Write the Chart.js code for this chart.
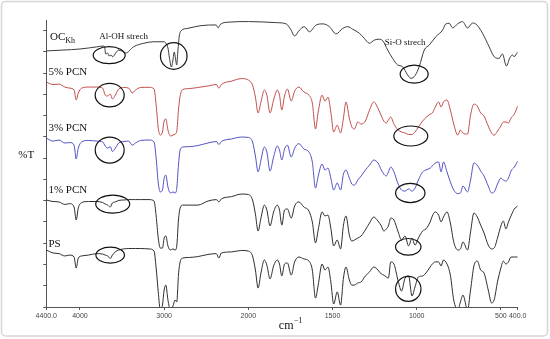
<!DOCTYPE html>
<html><head><meta charset="utf-8">
<script src="https://cdn.jsdelivr.net/npm/chart.js@4/dist/chart.umd.min.js"></script>
<style>html,body{margin:0;padding:0;background:#fff;}canvas{display:block;}</style>
</head><body>
<canvas id="c" width="550" height="339"></canvas>
<script>
const tickValues = [4400,4000,3000,2000,1500,1000,500,400];
const tickLabels = ['4400.0','4000','3000','2000','1500','1000','500','400.0'];

const ocWn = [4400,4200,4000,3800,3720,3707,3696,3672,3654,3630,3612,3576,3540,3493,3457,3361,3242,3122,3003,2979,2955,2937,2913,2896,2880,2866,2851,2836,2820,2800,2720,2561,2382,2358,2334,2242,2000,1834,1775,1746,1726,1696,1668,1637,1597,1557,1518,1479,1439,1409,1380,1340,1311,1281,1251,1222,1202,1172,1143,1113,1084,1054,1034,1010,985,955,925,886,846,827,807,787,757,728,698,668,649,609,570,540,511,491,467,447,431,422,400];
const ocKh = [120.4,120.8,121.3,122.3,122.7,122.3,119.0,119.4,118.0,118.5,117.6,119.4,120.8,120.1,119.4,122.4,124.0,124.7,124.7,124.0,121.8,117.1,112.8,116.1,119.9,117.1,113.8,120.8,127.4,129.8,131.0,132.3,132.6,131.2,132.8,133.9,134.2,133.7,133.1,130.2,127.4,130.2,131.8,129.4,132.6,133.1,131.8,128.4,131.0,131.8,130.6,128.7,126.3,124.0,125.5,125.9,125.2,120.8,116.9,113.8,113.0,109.1,107.5,108.8,113.0,120.8,123.2,127.1,130.2,133.1,133.4,131.2,133.1,134.2,131.2,133.5,133.1,128.7,122.4,117.7,116.9,119.0,113.3,117.1,118.5,117.7,119.9];

const psWn = [4400,4320,4250,4180,4120,4070,4045,4020,3980,3900,3800,3730,3700,3670,3640,3615,3580,3540,3480,3420,3380,3340,3280,3180,3120,3095,3070,3045,3020,3000,2980,2955,2925,2895,2870,2850,2830,2810,2780,2700,2600,2480,2380,2350,2320,2200,2080,2000,1975,1958,1942,1925,1905,1890,1871,1850,1828,1815,1801,1785,1768,1745,1725,1700,1670,1640,1620,1601,1585,1562,1545,1527,1510,1493,1472,1452,1435,1420,1400,1385,1370,1350,1330,1305,1280,1255,1230,1210,1195,1181,1168,1154,1135,1110,1090,1069,1048,1028,1010,990,965,945,920,907,890,870,855,841,820,800,780,756,740,725,698,680,660,640,620,600,575,555,540,520,500,485,470,455,440,420,400];

const pcn5 = [105.8,104.6,104.8,103.4,102.9,102.0,97.3,100.6,102.9,103.4,
103.4,102.9,99.6,99.2,100.1,97.8,99.6,102.5,103.2,102.9,
100.6,102.0,103.2,103.3,102.5,94.9,84.1,80.8,82.3,87.4,
88.4,83.2,80.4,80.8,81.3,82.7,92.6,99.2,102.2,102.7,
103.2,103.9,104.6,102.9,104.6,106.2,107.4,106.7,104.3,98.7,
91.2,96.4,102.0,99.6,91.2,97.3,102.0,99.6,92.6,99.2,
102.5,96.8,101.5,103.4,101.1,99.6,95.9,83.7,91.7,99.6,
96.8,98.7,91.7,82.3,85.5,81.8,88.8,96.4,88.8,84.6,
83.7,87.0,86.0,87.4,92.6,96.4,93.5,89.8,87.4,86.5,
87.9,89.3,86.0,83.2,82.3,81.8,81.1,81.1,82.3,84.6,
87.4,89.1,90.7,91.2,94.0,96.4,94.0,96.4,97.3,92.6,
86.0,80.8,83.2,81.8,81.3,90.2,95.4,94.5,91.2,89.8,
85.1,81.8,80.8,82.7,85.1,87.0,87.0,86.5,88.8,90.7,94.5];

const pcn3 = [79.4,78.0,78.5,77.1,77.3,76.1,69.6,74.7,77.6,78.3,
78.0,77.6,75.7,74.7,75.4,73.1,74.7,77.1,77.8,78.0,
76.1,77.1,78.3,78.5,77.6,70.0,58.3,54.1,55.0,60.6,
62.0,56.4,53.6,54.1,53.6,55.9,66.7,73.8,75.2,75.4,
75.9,77.1,77.8,76.4,77.8,79.0,79.9,79.7,77.6,71.0,
63.5,69.1,75.2,72.9,63.9,70.5,75.7,73.8,69.1,74.3,
76.1,70.5,74.7,76.8,74.3,72.9,68.2,55.9,61.6,67.2,
64.4,65.3,60.6,55.0,58.3,55.0,62.5,64.4,60.6,57.8,
57.3,59.7,61.6,64.4,66.7,69.1,67.7,64.4,62.5,61.6,
63.5,65.8,63.5,57.8,55.0,54.5,55.5,54.5,55.9,59.7,
63.5,64.4,65.3,66.3,67.7,68.2,63.5,68.2,63.5,58.8,
55.0,53.3,53.6,56.9,54.1,59.7,67.7,66.7,63.9,61.6,
56.9,53.6,54.1,57.8,60.6,59.7,59.2,60.6,63.9,65.8,68.6];

const pcn1 = [50.3,49.6,49.4,48.2,48.6,47.0,40.9,46.5,49.1,49.6,
49.6,49.1,48.4,47.9,47.0,48.9,49.4,50.1,50.3,50.5,
50.5,50.5,50.5,50.5,49.8,42.8,32.4,27.7,27.7,32.4,
33.4,28.7,26.8,27.3,26.8,28.7,40.9,46.5,47.9,47.9,
47.9,49.8,50.5,49.4,50.8,51.9,53.1,52.9,50.3,43.7,
35.7,41.8,47.9,45.6,38.1,44.7,47.9,45.6,38.5,45.6,
46.1,41.8,47.5,49.4,47.0,45.1,40.0,30.1,36.2,44.7,
42.8,43.2,37.1,28.7,31.5,27.3,38.5,42.8,33.8,31.0,
31.5,32.4,33.4,36.2,39.5,42.3,40.4,38.1,35.7,36.7,
38.1,41.8,40.9,35.3,31.5,33.4,28.7,32.4,29.1,32.4,
35.7,36.7,40.0,42.8,44.7,43.2,40.0,42.3,44.7,39.5,
30.6,26.8,27.3,30.6,26.8,35.3,44.2,42.3,38.5,34.8,
29.1,27.3,27.7,32.4,38.1,40.4,36.7,40.0,42.8,46.1,47.5];

const ps = [26.8,25.4,25.1,24.0,24.4,23.5,18.3,23.0,24.0,24.4,
25.1,24.9,24.4,24.0,22.8,24.4,25.9,26.8,27.3,27.5,
27.5,27.5,27.5,27.3,26.3,18.3,7.1,-1.4,0.9,8.0,
10.3,3.3,-1.4,0.5,3.3,2.4,15.0,21.2,23.0,23.3,
23.7,24.7,25.1,23.0,25.4,25.9,26.6,26.3,24.0,17.4,
8.9,16.0,22.1,19.7,13.2,19.3,22.1,20.2,14.6,20.2,
20.7,15.0,21.2,23.5,22.6,21.6,17.4,4.2,10.3,20.2,
17.4,18.8,11.8,1.4,7.1,0.9,13.6,18.8,12.7,10.3,
10.3,11.3,11.8,14.6,16.5,18.8,17.4,15.5,15.0,14.1,
13.6,21.2,20.2,12.2,7.5,13.6,14.6,5.2,9.4,14.1,
14.6,16.0,18.8,20.2,21.2,21.2,19.3,22.1,20.2,15.0,
3.3,-1.4,2.4,5.6,-1.4,8.0,19.3,21.6,17.4,16.0,
8.0,1.9,3.3,11.8,18.3,21.6,20.2,21.2,23.5,23.5,23.5];

const seriesNames = ['OCKh','5% PCN','3% PCN','1% PCN','PS'];
const seriesColors = ['#3c3c3c','#c0504d','#5252c6','#2f2f2f','#2f2f2f'];

// annotation ellipses (centre in wavenumber / %T units, radii in px)
const ellipses = [
  {wn:3653,t:118.4,rx:16,ry:8.5},{wn:2886,t:118.0,rx:13.3,ry:13.3},{wn:1015,t:109.5,rx:14,ry:9},
  {wn:3647,t:99.6,rx:14.5,ry:11.7},{wn:1035,t:80.4,rx:17,ry:10},
  {wn:3647,t:73.8,rx:14.5,ry:13},{wn:1038,t:53.6,rx:14.7,ry:9.7},
  {wn:3611,t:48.4,rx:17,ry:9},{wn:1050,t:28.3,rx:12.7,ry:8.3},
  {wn:3641,t:24.4,rx:14.3,ry:8},{wn:1050,t:8.5,rx:12.7,ry:12.5}
];
const labels = [
  {text:'OC',sub:'Kh',wn:4356,t:126.7,size:11},
  {text:'Al-OH strech',wn:3772,t:126.9,size:9},
  {text:'Si-O strech',wn:1190,t:124.1,size:9},
  {text:'5% PCN',wn:4375,t:110.5,size:11},
  {text:'3% PCN',wn:4375,t:84.1,size:11},
  {text:'1% PCN',wn:4375,t:55.0,size:11},
  {text:'PS',wn:4375,t:29.8,size:11}
];

class BreakScale extends Chart.LinearScale {
  _u(v){ return v >= 2000 ? 4400 - v : 2400 + (2000 - v) * 2; }
  getPixelForValue(v){ return this.left + this._u(v) / 5600 * this.width; }
  getValueForPixel(p){ const u = (p - this.left) / this.width * 5600; return u <= 2400 ? 4400 - u : 2000 - (u - 2400) / 2; }
}
BreakScale.id = 'breakLinear';
BreakScale.defaults = {};
Chart.register(BreakScale);

const serif = '"Liberation Serif","Times New Roman",serif';
const annot = {
  id:'annot',
  beforeDraw(chart){
    const c = chart.ctx;
    c.save(); c.fillStyle = '#fff'; c.fillRect(0,0,chart.width,chart.height);
    c.strokeStyle = '#d6d6d6'; c.lineWidth = 1.5;
    c.beginPath(); c.roundRect(1.5,1.5,546,334.5,4); c.stroke(); c.restore();
  },
  afterDraw(chart){
    const c = chart.ctx, x = chart.scales.x, y = chart.scales.y, a = chart.chartArea;
    c.save();
    c.strokeStyle = '#111'; c.lineWidth = 1.2;
    ellipses.forEach(e => { c.beginPath(); c.ellipse(x.getPixelForValue(e.wn), y.getPixelForValue(e.t), e.rx, e.ry, 0, 0, Math.PI*2); c.stroke(); });
    c.fillStyle = '#111'; c.textBaseline = 'middle'; c.textAlign = 'left';
    labels.forEach(l => {
      const px = x.getPixelForValue(l.wn), py = y.getPixelForValue(l.t);
      c.font = l.size + 'px ' + serif; c.fillText(l.text, px, py);
      if (l.sub) { const w = c.measureText(l.text).width; c.font = '8px ' + serif; c.fillText(l.sub, px + w, py + 3.5); }
    });
    c.font = '11px ' + serif; c.fillText('%T', a.left - 28, y.getPixelForValue(71.4));
    c.textBaseline = 'alphabetic';
    const cx = x.getPixelForValue(1819);
    c.font = '12px ' + serif; c.fillText('cm', cx, a.bottom + 22);
    const cw = c.measureText('cm').width;
    c.font = '8px ' + serif; c.fillText('\u22121', cx + cw + 0.5, a.bottom + 16);
    c.restore();
  }
};

const mk = (wn, vals) => wn.map((w, i) => ({x: w, y: vals[i]}));
const seriesData = [mk(ocWn, ocKh), mk(psWn, pcn5), mk(psWn, pcn3), mk(psWn, pcn1), mk(psWn, ps)];

new Chart(document.getElementById('c'), {
  type: 'line',
  data: { datasets: seriesData.map((d, i) => ({
    label: seriesNames[i], data: d, borderColor: seriesColors[i], borderWidth: 1,
    pointRadius: 0, fill: false, cubicInterpolationMode: 'monotone'
  })) },
  options: {
    responsive: false, animation: false, devicePixelRatio: 1,
    layout: { padding: { left: 0, right: 32.3, top: 20.5, bottom: 0 } },
    plugins: { legend: { display: false }, tooltip: { enabled: false } },
    scales: {
      x: {
        type: 'breakLinear', min: 400, max: 4400, position: 'bottom',
        afterBuildTicks: s => { s.ticks = tickValues.map(v => ({value: v})); },
        afterFit: s => { s.height = 32; },
        ticks: { autoSkip: false, maxRotation: 0, minRotation: 0, padding: 2, color: '#444',
          font: { family: 'Liberation Sans', size: 7 }, callback: (v, i) => tickLabels[i] },
        grid: { drawOnChartArea: false, tickLength: 3, color: '#555' },
        border: { color: '#555', width: 1 }
      },
      y: {
        min: 0, max: 134.7,
        afterFit: s => { s.width = 46.3; },
        ticks: { display: false, stepSize: 10, includeBounds: false },
        grid: { drawOnChartArea: false, tickLength: 3, color: '#555' },
        border: { color: '#555', width: 1 }
      }
    }
  },
  plugins: [annot]
});
</script>
</body></html>
